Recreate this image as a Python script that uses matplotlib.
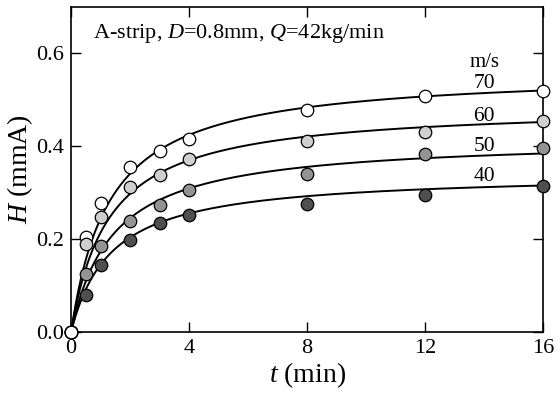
import matplotlib

matplotlib.use("Agg")
import matplotlib.pyplot as plt  # noqa: E402
import numpy as np  # noqa: E402
from matplotlib import rcParams  # noqa: E402

rcParams["font.family"] = "Liberation Serif"
rcParams["mathtext.fontset"] = "custom"
rcParams["mathtext.rm"] = "Liberation Serif"
rcParams["mathtext.it"] = "Liberation Serif:italic"

# measured points, t in min, H in mmA
t_min = [0, 0.5, 1, 2, 3, 4, 8, 12, 16]
speeds = ["70", "60", "50", "40"]
h_70 = [0.0, 0.204, 0.277, 0.356, 0.390, 0.416, 0.477, 0.507, 0.519]
h_60 = [0.0, 0.189, 0.248, 0.312, 0.338, 0.372, 0.411, 0.431, 0.454]
h_50 = [0.0, 0.125, 0.186, 0.239, 0.274, 0.305, 0.341, 0.382, 0.395]
h_40 = [0.0, 0.080, 0.144, 0.198, 0.235, 0.252, 0.275, 0.295, 0.314]
# fitted curves H = h_inf * t / (t_half + t)
h_inf = [0.562, 0.488, 0.418, 0.342]
t_half = [1.30, 1.28, 1.41, 1.36]
fill_colors = ["white", "#cfcfcf", "#939393", "#4f4f4f"]
label_y = [0.535, 0.464, 0.399, 0.334]

fig = plt.figure(figsize=(5.6, 3.98), dpi=100)
ax = fig.add_axes([0.127, 0.166, 0.843, 0.817])

tt = np.linspace(0, 16, 400)
series = [h_70, h_60, h_50, h_40]
for name, h, a, b, fc, ly in zip(speeds, series, h_inf, t_half, fill_colors, label_y):
    ax.plot(tt, a * tt / (b + tt), color="black", lw=1.4, zorder=2)
    ax.plot(t_min, h, "o", ms=9, mfc=fc, mec="black", mew=0.9, zorder=3, clip_on=False)
    ax.text(14.0, ly, name, fontsize=15.5, ha="center", va="center")

# common starting point is shown as an open circle
ax.plot(t_min[0], h_70[0], "o", ms=9, mfc="white", mec="black", mew=0.9,
        zorder=4, clip_on=False)

ax.text(14.0, 0.581, "m/s", fontsize=15, ha="center", va="center")
ax.text(0.75, 0.643, r"A-strip, $\mathit{D}$=0.8mm, $\mathit{Q}$=42kg/min",
        fontsize=16, ha="left", va="center")

ax.set_xlim(0, 16)
ax.set_ylim(0, 0.7)
ax.set_xticks([0, 4, 8, 12, 16])
ax.set_yticks([0.0, 0.2, 0.4, 0.6])
ax.set_yticklabels(["0.0", "0.2", "0.4", "0.6"])
ax.tick_params(direction="in", length=7, width=1, top=True, right=True,
               labelsize=16, pad=5)
for s in ax.spines.values():
    s.set_linewidth(1.2)

ax.set_xlabel(r"$\mathit{t}$ (min)", fontsize=20, labelpad=2)
ax.set_ylabel(r"$\mathit{H}$ (mmA)", fontsize=20, labelpad=1)

fig.savefig("out.png", dpi=100)
